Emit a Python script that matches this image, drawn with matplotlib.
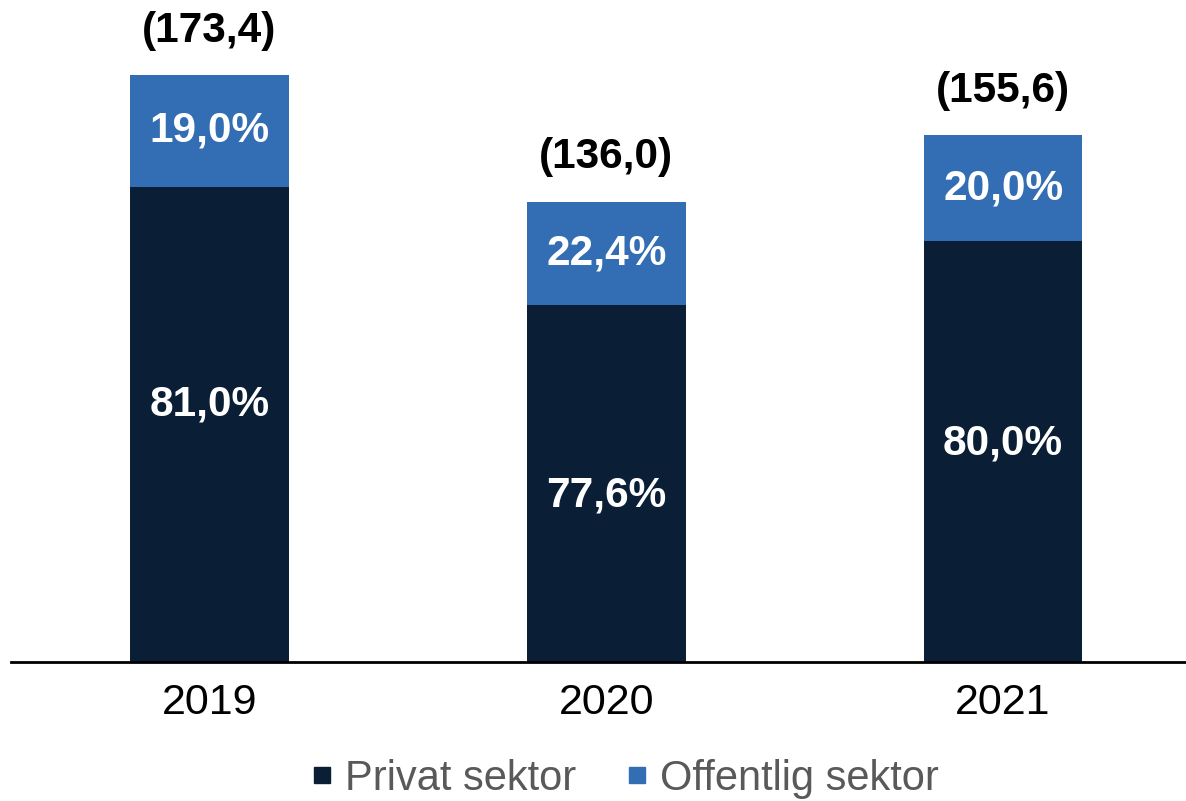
import matplotlib
matplotlib.use("Agg")
import matplotlib.pyplot as plt
from matplotlib.lines import Line2D

plt.rcParams['font.family'] = ['Liberation Sans', 'DejaVu Sans']

# data
years = ["2019", "2020", "2021"]
totals = [173.4, 136.0, 155.6]
share_private = [81.0, 77.6, 80.0]
share_public = [19.0, 22.4, 20.0]
total_labels = ["(173,4)", "(136,0)", "(155,6)"]
private_labels = ["81,0%", "77,6%", "80,0%"]
public_labels = ["19,0%", "22,4%", "20,0%"]
series_names = ["Privat sektor", "Offentlig sektor"]

# label nudges (points) for the inner private labels, as placed in the original
private_label_dy = [14, -9, 6]

c_private = "#0A1F36"
c_public = "#336EB4"

fig = plt.figure(figsize=(11.86, 8.01), dpi=100)
ax = fig.add_axes([11 / 1186, 139 / 801, 1175 / 1186, 643 / 801])

x = list(range(len(years)))
priv = [t * s / 100 for t, s in zip(totals, share_private)]
pub = [t * s / 100 for t, s in zip(totals, share_public)]

ax.bar(x, priv, width=0.4, color=c_private)
ax.bar(x, pub, width=0.4, bottom=priv, color=c_public)

for i in x:
    ax.annotate(private_labels[i], (i, priv[i] / 2), xytext=(0, private_label_dy[i]),
                textcoords="offset points", ha="center", va="center",
                color="white", fontsize=30.5, fontweight="bold")
    ax.text(i, priv[i] + pub[i] / 2, public_labels[i], ha="center", va="center",
            color="white", fontsize=30.5, fontweight="bold")
    ax.annotate(total_labels[i], (i, totals[i]), xytext=(0, 32),
                textcoords="offset points", ha="center", va="center",
                fontsize=30.5, fontweight="bold", color="black")

ax.set_xlim(-0.5, 2.461)
ax.set_ylim(0, 190)
ax.set_yticks([])
ax.set_xticks(x)
ax.set_xticklabels(years, fontsize=31)
ax.tick_params(axis="x", length=0, pad=15)
for s in ["top", "right", "left"]:
    ax.spines[s].set_visible(False)
ax.spines["bottom"].set_linewidth(2)
ax.spines["bottom"].set_color("black")

handles = [Line2D([], [], marker="s", linestyle="none", markersize=11.5, color=c_private),
           Line2D([], [], marker="s", linestyle="none", markersize=11.5, color=c_public)]
leg = fig.legend(handles, series_names, loc="center", bbox_to_anchor=(0.527, 0.028),
                 ncol=2, frameon=False, handlelength=0.5,
                 handletextpad=0.3, columnspacing=1.2, fontsize=30)
for t in leg.get_texts():
    t.set_color("#595959")

fig.savefig("out.png", dpi=100)
